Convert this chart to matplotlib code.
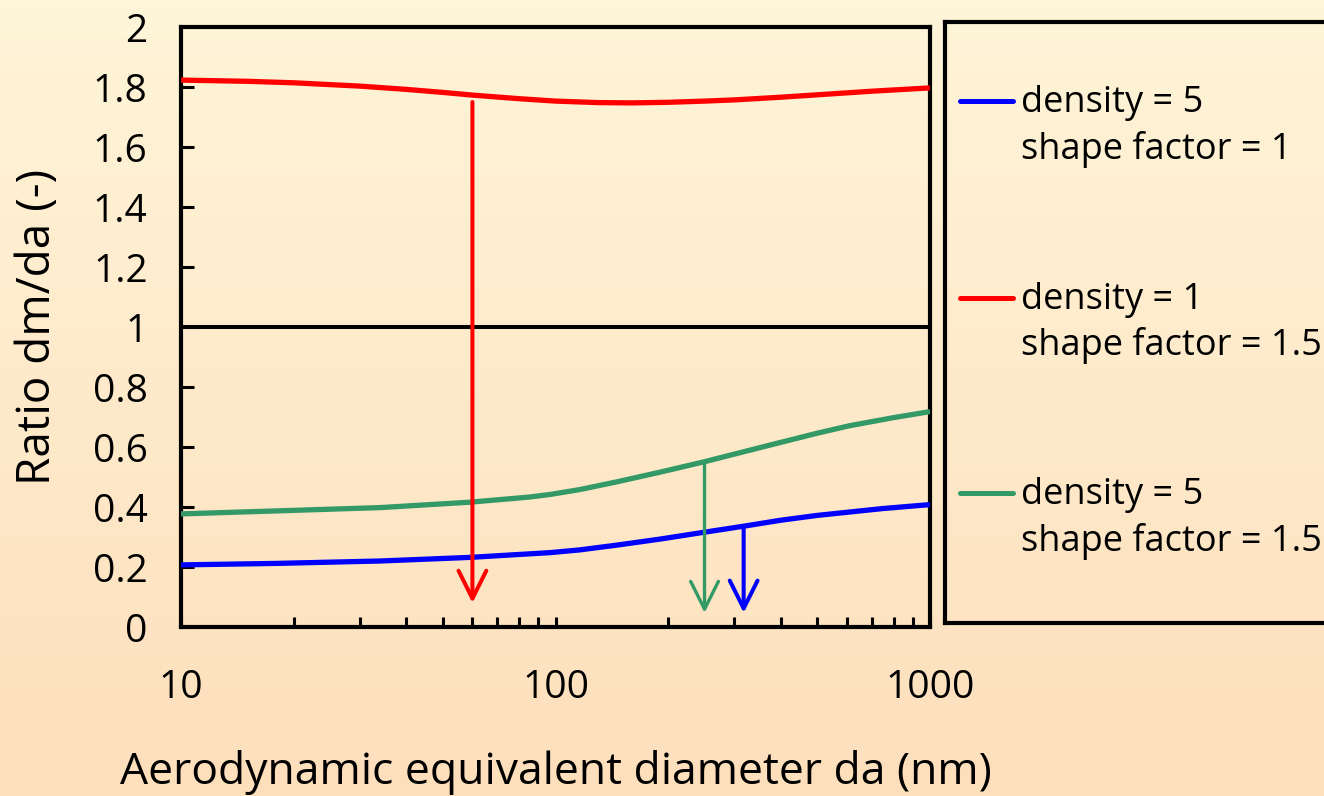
import numpy as np
import matplotlib
matplotlib.use("Agg")
import matplotlib.pyplot as plt
from matplotlib.lines import Line2D
from matplotlib.ticker import FixedLocator, NullFormatter, LogLocator

plt.rcParams['font.family'] = ['Open Sans', 'DejaVu Sans']

# ---------------- data ----------------
da_red = [10, 15, 20, 30, 40, 50, 60, 80, 100, 130, 160, 200, 250, 300, 400, 500, 700, 1000]
ratio_red = [1.823, 1.819, 1.814, 1.803, 1.792, 1.782, 1.773, 1.761, 1.753, 1.748, 1.747,
             1.749, 1.753, 1.757, 1.766, 1.774, 1.786, 1.797]

da_green = [10, 18, 34, 59, 85, 97, 116, 146, 190, 250, 320, 404, 500, 610, 800, 1000]
ratio_green = [0.377, 0.387, 0.398, 0.416, 0.433, 0.442, 0.458, 0.484, 0.516, 0.551, 0.585,
               0.617, 0.646, 0.671, 0.698, 0.718]

da_blue = [10, 18, 34, 59, 97, 116, 146, 190, 250, 318, 400, 500, 750, 1000]
ratio_blue = [0.207, 0.212, 0.22, 0.232, 0.248, 0.257, 0.273, 0.293, 0.316, 0.336, 0.356,
              0.372, 0.395, 0.408]

# arrows: (da, start ratio, end ratio)
arrow_red = (60, 1.75, 0.08)
arrow_green = (250, 0.55, 0.047)
arrow_blue = (318, 0.333, 0.047)

reference_ratio = 1.0

yticks = [0, 0.2, 0.4, 0.6, 0.8, 1.0, 1.2, 1.4, 1.6, 1.8, 2.0]
ytick_labels = ["0", "0.2", "0.4", "0.6", "0.8", "1", "1.2", "1.4", "1.6", "1.8", "2"]
xticks = [10, 100, 1000]
xtick_labels = ["10", "100", "1000"]

legend_labels = [("density = 5", "shape factor = 1"),
                 ("density = 1", "shape factor = 1.5"),
                 ("density = 5", "shape factor = 1.5")]

RED = "#FF0000"
BLUE = "#0000FF"
GREEN = "#339966"
legend_colors = [BLUE, RED, GREEN]

# ---------------- figure ----------------
W, H = 1324, 796
fig = plt.figure(figsize=(W / 100, H / 100), dpi=100)

# gradient background
bg = fig.add_axes([0, 0, 1, 1], zorder=-10)
top = np.array([255, 245, 216]) / 255
bot = np.array([253, 223, 188]) / 255
t = np.linspace(0, 1, 256)[:, None]
grad = (top[None, :] * (1 - t) + bot[None, :] * t)[:, None, :]
bg.imshow(grad, aspect='auto', extent=[0, 1, 0, 1], origin='upper')
bg.set_axis_off()

ax = fig.add_axes([181 / W, 1 - 627 / H, (930 - 181) / W, 600 / H])
ax.set_facecolor('none')
ax.set_xscale('log')
ax.set_xlim(10, 1000)
ax.set_ylim(0, 2)

for xs, ys, c in [(da_red, ratio_red, RED), (da_green, ratio_green, GREEN),
                  (da_blue, ratio_blue, BLUE)]:
    ax.plot(xs, ys, color=c, lw=3.8, solid_capstyle='butt', solid_joinstyle='round',
            zorder=3, clip_on=True)
ax.axhline(reference_ratio, color='black', lw=2.9, zorder=2)

for (x, y0, y1), c, lw in [(arrow_red, RED, 2.9), (arrow_green, GREEN, 2.4), (arrow_blue, BLUE, 2.9)]:
    ax.annotate('', xy=(x, y1), xytext=(x, y0),
                arrowprops=dict(arrowstyle='->,head_length=1.0,head_width=0.5',
                                color=c, lw=lw, mutation_scale=20,
                                shrinkA=0, shrinkB=0), zorder=4)

for s in ax.spines.values():
    s.set_linewidth(3)
    s.set_color('black')

ax.set_yticks(yticks)
ax.set_yticklabels(ytick_labels)
ax.xaxis.set_major_locator(FixedLocator(xticks))
ax.set_xticklabels(xtick_labels)
ax.xaxis.set_minor_locator(LogLocator(base=10, subs=np.arange(2, 10)))
ax.xaxis.set_minor_formatter(NullFormatter())

ax.tick_params(axis='y', direction='in', length=9, width=2.2, pad=24,
               labelsize=28, right=False)
ax.tick_params(axis='x', which='both', direction='in', length=7, width=2.2,
               pad=30, labelsize=28, top=False)

ax.set_ylabel("Ratio dm/da (-)", fontsize=33, va='center')
ax.yaxis.set_label_coords(-0.191, 0.5)
ax.set_xlabel("Aerodynamic equivalent diameter da (nm)", fontsize=32, va='center')
ax.xaxis.set_label_coords(0.5, -0.243)

# legend box
lax = fig.add_axes([945 / W, 1 - 623 / H, 400 / W, 601 / H])
lax.set_facecolor('none')
lax.set_xlim(0, 400)
lax.set_ylim(601, 0)
lax.set_xticks([])
lax.set_yticks([])
for s in lax.spines.values():
    s.set_linewidth(3)
    s.set_color('black')

entry_y = [101 - 22, 298 - 22, 493 - 22]
for (l1, l2), c, yy in zip(legend_labels, legend_colors, entry_y):
    lax.add_line(Line2D([15, 68], [yy, yy], color=c, lw=3.6, solid_capstyle='round'))
    lax.text(76, yy + 2, l1, fontsize=26, va='center', ha='left')
    lax.text(76, yy + 48, l2, fontsize=26, va='center', ha='left')

fig.savefig("out.png", dpi=100)
